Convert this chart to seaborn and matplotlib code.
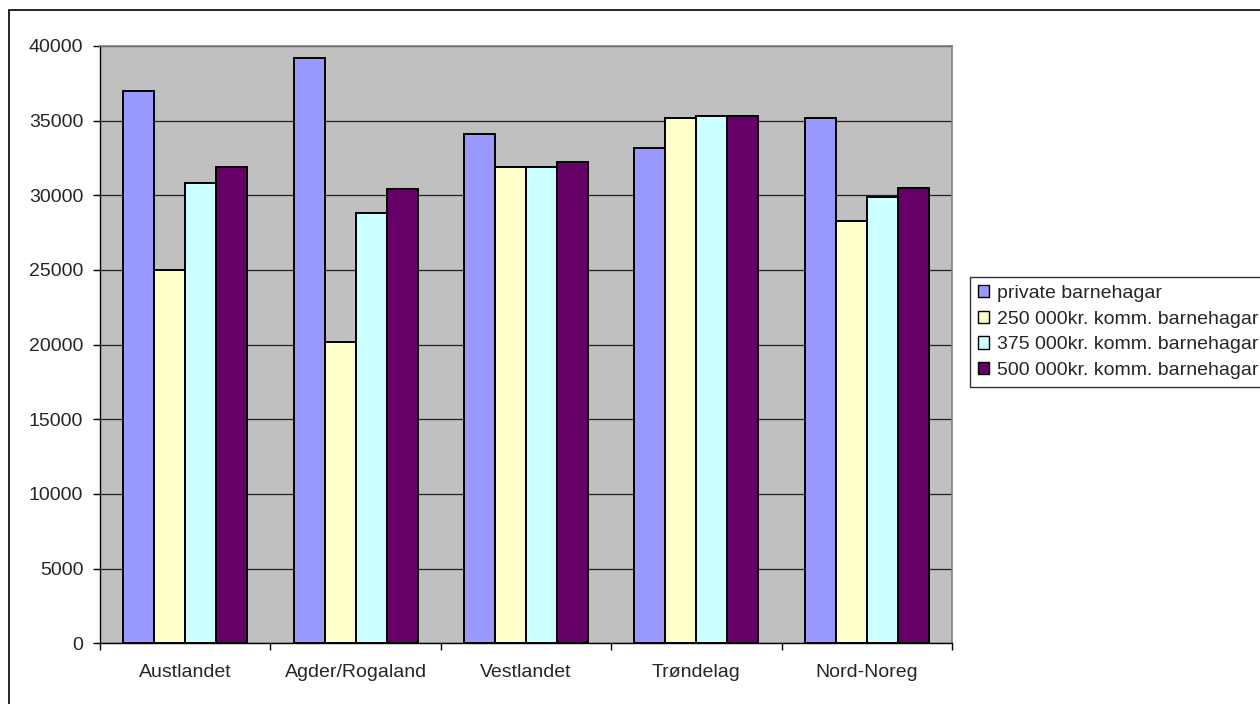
import matplotlib
matplotlib.use("Agg")
import matplotlib.pyplot as plt
from matplotlib.patches import Rectangle
import pandas as pd
import seaborn as sns

regions = ["Austlandet", "Agder/Rogaland", "Vestlandet", "Trøndelag", "Nord-Noreg"]
series = ["private barnehagar", "250 000kr. komm. barnehagar",
          "375 000kr. komm. barnehagar", "500 000kr. komm. barnehagar"]
private = [37000, 39200, 34100, 33200, 35200]
komm_250 = [25000, 20200, 31900, 35200, 28300]
komm_375 = [30800, 28800, 31900, 35300, 29900]
komm_500 = [31900, 30400, 32200, 35300, 30500]
colors = ["#9999FF", "#FFFFCC", "#CCFFFF", "#660066"]

rows = []
for name, vals in zip(series, [private, komm_250, komm_375, komm_500]):
    for reg, v in zip(regions, vals):
        rows.append({"region": reg, "serie": name, "verdi": v})
df = pd.DataFrame(rows)

sns.set_style("white")
plt.rcParams["font.family"] = ["Liberation Sans", "DejaVu Sans"]

fig = plt.figure(figsize=(12.6, 7.04), dpi=100)
ax = fig.add_axes([100 / 1260, 1 - 643.3 / 704, 852 / 1260, 597.3 / 704])
ax.set_facecolor("#C0C0C0")

sns.barplot(data=df, x="region", y="verdi", hue="serie", palette=colors,
            saturation=1, width=4 / 5.5, edgecolor="black", linewidth=1.4,
            ax=ax, legend=False)

ax.set_ylim(0, 40000)
ax.set_xlim(-0.5, 4.5)
ax.set_yticks(range(0, 40001, 5000))
ax.set_axisbelow(True)
ax.yaxis.grid(True, color="#202020", linewidth=0.9)
ax.xaxis.grid(False)
ax.set_xlabel("")
ax.set_ylabel("")

ax.set_xticks([i - 0.5 for i in range(6)], minor=True)
ax.tick_params(axis="x", which="major", length=0, pad=15, labelsize=14)
ax.tick_params(axis="x", which="minor", length=5, width=1, color="black", direction="out", bottom=True)
ax.tick_params(axis="y", length=5, width=1, color="black", direction="out", left=True,
               pad=7, labelsize=14)

for side in ["top", "right"]:
    ax.spines[side].set_color("#808080")
    ax.spines[side].set_linewidth(1.2)
for side in ["left", "bottom"]:
    ax.spines[side].set_color("black")
    ax.spines[side].set_linewidth(1)

# chart area border
fig.patches.append(Rectangle((9 / 1260, -0.1), 1.2, (704 - 10) / 704 + 0.1,
                             transform=fig.transFigure, fill=False,
                             edgecolor="black", linewidth=1.2))

handles = [Rectangle((0, 0), 1, 1, facecolor=c, edgecolor="black", linewidth=1) for c in colors]
leg = fig.legend(handles, series, loc="upper left",
                 bbox_to_anchor=(970 / 1260, 1 - 277 / 704),
                 frameon=True, fancybox=False, edgecolor="black",
                 fontsize=14, handlelength=0.6, handleheight=0.6,
                 handletextpad=0.4, labelspacing=0.45, borderpad=0.4,
                 borderaxespad=0)
leg.get_frame().set_linewidth(1)

fig.savefig("out.png", dpi=100)
